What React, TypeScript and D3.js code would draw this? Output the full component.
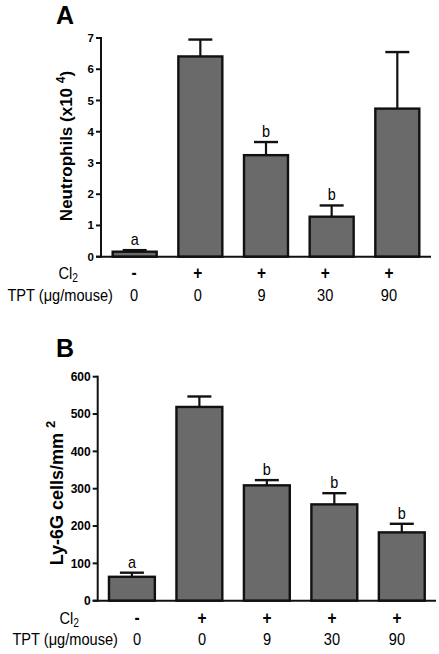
import React from "react";
import * as d3 from "d3";

const cl2Labels = ["-", "+", "+", "+", "+"];
const tptLabels = ["0", "0", "9", "30", "90"];

const neutroMeans = [0.16, 6.41, 3.25, 1.28, 4.74];
const neutroErr = [0.05, 0.54, 0.42, 0.36, 1.81];
const neutroLetters = ["a", "", "b", "b", ""];
const neutroTicks = [0, 1, 2, 3, 4, 5, 6, 7];

const ly6gMeans = [64, 519, 309, 258, 183];
const ly6gErr = [11, 28, 14, 30, 23];
const ly6gLetters = ["a", "", "b", "b", "b"];
const ly6gTicks = [0, 100, 200, 300, 400, 500, 600];

const FONT = "'Liberation Sans', Arial, Helvetica, sans-serif";
const SX = 0.86;
const ROWFONT = 17;

type PanelProps = {
  letter: string;
  letterY: number;
  means: number[];
  errs: number[];
  sigLetters: string[];
  ticks: number[];
  yMax: number;
  yTop: number;
  yBottom: number;
  xLeft: number;
  xRight: number;
  padInner: number;
  padOuter: number;
  labelRange: [number, number];
  cl2Y: number;
  tptY: number;
  tickFont: number;
  title: React.ReactNode;
  titleFont: number;
  titleX: number;
  titleY: number;
  cl2X: number;
  tptX: number;
};

function Panel(p: PanelProps) {
  const idx = p.means.map((_, i) => String(i));
  const x = d3.scaleBand<string>().domain(idx).range([p.xLeft, p.xRight]).paddingInner(p.padInner).paddingOuter(p.padOuter);
  const y = d3.scaleLinear().domain([0, p.yMax]).range([p.yBottom, p.yTop]);
  const lx = d3.scalePoint<string>().domain(idx).range(p.labelRange);
  const bw = x.bandwidth();
  const capW = 24;
  return (
    <g fontFamily={FONT}>
      <text x={56} y={p.letterY} fontSize={25} fontWeight="bold">{p.letter}</text>
      <text
        transform={`translate(${p.titleX},${p.titleY}) rotate(-90)`}
        textAnchor="middle"
        fontSize={p.titleFont}
        fontWeight="bold"
      >
        {p.title}
      </text>
      {/* y axis */}
      <line x1={p.xLeft} x2={p.xLeft} y1={y(p.yMax) - 1} y2={p.yBottom + 1} stroke="#111" strokeWidth={2} />
      {p.ticks.map((t) => (
        <g key={t}>
          <line x1={p.xLeft - 5} x2={p.xLeft} y1={y(t)} y2={y(t)} stroke="#111" strokeWidth={2} />
          <text x={p.xLeft - 7} y={y(t)} dy="0.35em" textAnchor="end" fontSize={p.tickFont} fontWeight="bold">
            {t}
          </text>
        </g>
      ))}
      {/* bars */}
      {p.means.map((m, i) => {
        const bx = x(String(i))!;
        const cx = bx + bw / 2;
        const top = y(m + p.errs[i]);
        return (
          <g key={i}>
            <line x1={cx} x2={cx} y1={y(m)} y2={top} stroke="#111" strokeWidth={2.2} />
            <line x1={cx - capW / 2} x2={cx + capW / 2} y1={top} y2={top} stroke="#111" strokeWidth={2.4} />
            <rect x={bx} y={y(m)} width={bw} height={y(0) - y(m)} fill="#6a6a6a" stroke="#111" strokeWidth={2.4} />
            {p.sigLetters[i] && (
              <text transform={`translate(${cx},${top - 5}) scale(0.9,1)`} textAnchor="middle" fontSize={16}>
                {p.sigLetters[i]}
              </text>
            )}
          </g>
        );
      })}
      {/* x axis */}
      <line x1={p.xLeft - 5} x2={p.xRight} y1={p.yBottom} y2={p.yBottom} stroke="#111" strokeWidth={2} />
      {/* rows */}
      <text transform={`translate(${p.cl2X},${p.cl2Y}) scale(${SX},1)`} textAnchor="end" fontSize={ROWFONT}>
        Cl<tspan fontSize={12} dy="3">2</tspan>
      </text>
      <text transform={`translate(${p.tptX},${p.tptY}) scale(${SX},1)`} textAnchor="end" fontSize={ROWFONT}>
        TPT (μg/mouse)
      </text>
      {cl2Labels.map((c, i) => (
        <text
          key={"c" + i}
          transform={`translate(${lx(String(i))},${p.cl2Y}) scale(${SX},1)`}
          textAnchor="middle"
          fontSize={18}
          fontWeight="bold"
        >
          {c}
        </text>
      ))}
      {tptLabels.map((c, i) => (
        <text
          key={"t" + i}
          transform={`translate(${lx(String(i))},${p.tptY}) scale(${SX},1)`}
          textAnchor="middle"
          fontSize={ROWFONT}
        >
          {c}
        </text>
      ))}
    </g>
  );
}

export default function App() {
  return (
    <svg width={439} height={654} style={{ position: "absolute", left: 0, top: 0, background: "#fff" }}>
      <rect width={439} height={654} fill="#fff" />
      <Panel
        letter="A"
        letterY={24}
        means={neutroMeans}
        errs={neutroErr}
        sigLetters={neutroLetters}
        ticks={neutroTicks}
        yMax={7}
        yTop={38}
        yBottom={256.7}
        xLeft={101}
        xRight={431}
        padInner={0.33}
        padOuter={0.178}
        labelRange={[134, 389]}
        cl2Y={279}
        tptY={300.5}
        tickFont={11.5}
        title={<>Neutrophils (x10 <tspan fontSize={12} dy="-7">4</tspan><tspan dy="7">)</tspan></>}
        titleFont={17}
        titleX={71.5}
        titleY={146}
        cl2X={78}
        tptX={113}
      />
      <Panel
        letter="B"
        letterY={357}
        means={ly6gMeans}
        errs={ly6gErr}
        sigLetters={ly6gLetters}
        ticks={ly6gTicks}
        yMax={600}
        yTop={376.7}
        yBottom={600.7}
        xLeft={97.7}
        xRight={436}
        padInner={0.32}
        padOuter={0.167}
        labelRange={[137, 397]}
        cl2Y={623.5}
        tptY={645}
        tickFont={12}
        title={<>Ly-6G cells/mm <tspan fontSize={13} dy="-8">2</tspan></>}
        titleFont={18}
        titleX={63}
        titleY={493}
        cl2X={79}
        tptX={118}
      />
    </svg>
  );
}
